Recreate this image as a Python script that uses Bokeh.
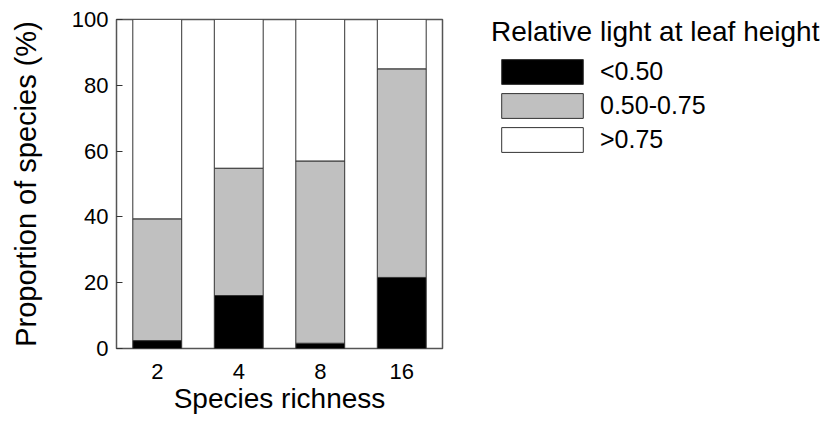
from bokeh.plotting import figure
from bokeh.layouts import row
from bokeh.models import Legend, LegendItem, ColumnDataSource, FixedTicker
from bokeh.embed import file_html
from bokeh.resources import INLINE

# Data
richness = ["2", "4", "8", "16"]
low_light = [2.4, 16.1, 1.6, 21.6]        # <0.50
mid_light = [37.0, 38.7, 55.4, 63.4]      # 0.50-0.75
high_light = [60.6, 45.2, 43.0, 15.0]     # >0.75
series_labels = ["<0.50", "0.50-0.75", ">0.75"]
series_colors = ["#000000", "#c0c0c0", "#ffffff"]
y_ticks = [0, 20, 40, 60, 80, 100]
legend_title = "Relative light at leaf height"

FONT = "Liberation Sans"
EDGE = "#333333"

source = ColumnDataSource(dict(richness=richness, low=low_light,
                               mid=mid_light, high=high_light))

p = figure(x_range=richness, y_range=(0, 100), width=445, height=417,
           output_backend="svg", toolbar_location=None,
           min_border_left=116, min_border_right=3,
           min_border_top=19, min_border_bottom=69)

rs = p.vbar_stack(["low", "mid", "high"], x="richness", width=0.6,
                  source=source, fill_color=series_colors,
                  line_color=EDGE, line_width=1)

p.xgrid.grid_line_color = None
p.ygrid.grid_line_color = None
p.outline_line_color = "#555555"
p.outline_line_width = 1.5
p.background_fill_color = "white"
p.border_fill_color = "white"

p.yaxis.ticker = FixedTicker(ticks=y_ticks)
p.yaxis.minor_tick_line_color = None
p.yaxis.major_tick_in = 6
p.yaxis.major_tick_out = 0
p.yaxis.major_tick_line_color = EDGE
p.yaxis.axis_line_color = None
p.yaxis.major_label_standoff = 8
p.yaxis.axis_label = "Proportion of species (%)"
p.yaxis.axis_label_standoff = 27

p.xaxis.major_tick_in = 0
p.xaxis.major_tick_out = 0
p.xaxis.major_tick_line_color = None
p.xaxis.axis_line_color = None
p.xaxis.major_label_standoff = 15
p.xaxis.axis_label = "Species richness"
p.xaxis.axis_label_standoff = 1

for ax in (p.xaxis, p.yaxis):
    ax.major_label_text_font = FONT
    ax.major_label_text_font_size = "22px"
    ax.major_label_text_color = "black"
    ax.axis_label_text_font = FONT
    ax.axis_label_text_font_style = "normal"
    ax.axis_label_text_color = "black"
p.xaxis.axis_label_text_font_size = "28px"
p.yaxis.axis_label_text_font_size = "29px"

# Legend panel: a bare figure holding style-only (no-data) renderers for the key
lg = figure(width=384, height=417, x_range=(0, 1), y_range=(0, 1),
            output_backend="svg", toolbar_location=None,
            x_axis_type=None, y_axis_type=None,
            min_border_left=0, min_border_right=0,
            min_border_top=0, min_border_bottom=0)
lg.xgrid.grid_line_color = None
lg.ygrid.grid_line_color = None
lg.outline_line_color = None
lg.border_fill_color = "white"

nan = float("nan")
key_renderers = [lg.vbar(x=[nan], top=[nan], width=0.6, fill_color=c,
                         line_color=EDGE, line_width=1)
                 for c in series_colors]
items = [LegendItem(label=lab, renderers=[r])
         for lab, r in zip(series_labels, key_renderers)]
legend = Legend(items=items, location=(46, 193),
                title=legend_title,
                title_text_font=FONT, title_text_font_size="28px",
                title_text_font_style="normal", title_text_color="black",
                title_standoff=8,
                label_text_font=FONT, label_text_font_size="25px",
                label_text_color="black",
                glyph_width=102, glyph_height=31, label_height=31,
                label_standoff=7, spacing=3, padding=0, margin=0,
                border_line_color=None, background_fill_alpha=0)
lg.add_layout(legend, "center")

layout = row(p, lg, spacing=0)
open("out.html", "w").write(file_html(layout, INLINE))
